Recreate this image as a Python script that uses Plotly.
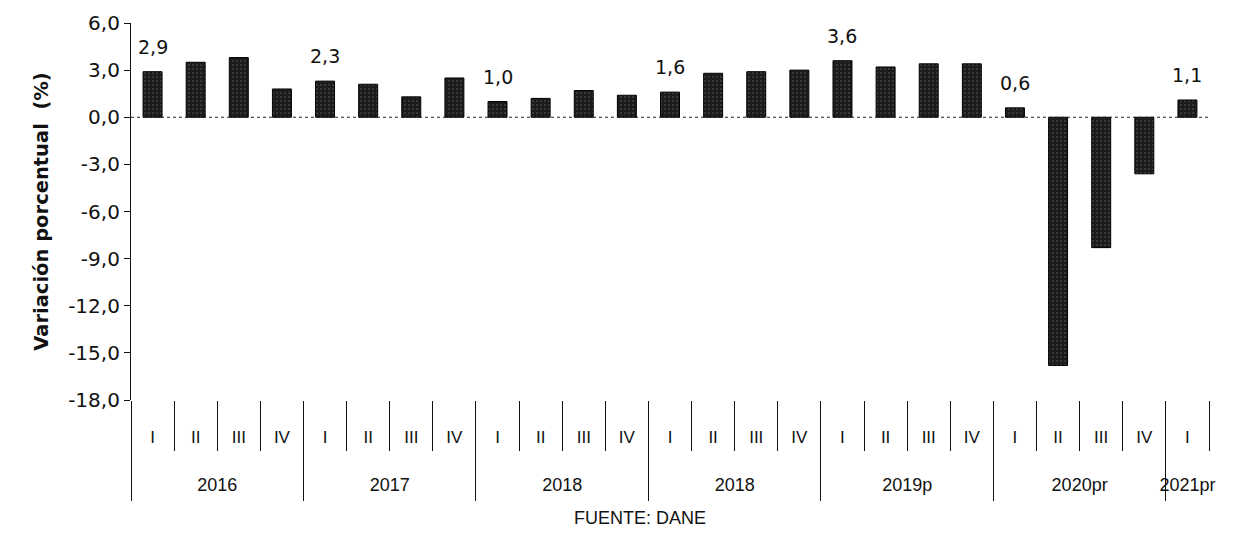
import plotly.graph_objects as go

# ---- data ----
group_labels = ["2016", "2017", "2018", "2018", "2019p", "2020pr", "2021pr"]
group_quarters = [["I", "II", "III", "IV"]] * 6 + [["I"]]
values = [2.9, 3.5, 3.8, 1.8,
          2.3, 2.1, 1.3, 2.5,
          1.0, 1.2, 1.7, 1.4,
          1.6, 2.8, 2.9, 3.0,
          3.6, 3.2, 3.4, 3.4,
          0.6, -15.8, -8.3, -3.6,
          1.1]
y_ticks = [6, 3, 0, -3, -6, -9, -12, -15, -18]

# ---- derived structure ----
quarters, keys, first_of_group = [], [], []
group_start, group_center = [], []
i = 0
for g, (lab, qs) in enumerate(zip(group_labels, group_quarters)):
    group_start.append(i - 0.5)
    group_center.append(i + (len(qs) - 1) / 2)
    for k, q in enumerate(qs):
        quarters.append(q)
        keys.append(f"{lab} {q} #{g}")
        first_of_group.append(k == 0)
        i += 1
n = len(keys)

def fmt(v):
    return f"{v:.1f}".replace(".", ",")

fig = go.Figure()
fig.add_trace(go.Bar(
    x=keys, y=values,
    marker=dict(color="#1c1c1c", line=dict(color="#000000", width=1),
                pattern=dict(shape=".", fgcolor="#a0a0a0", size=4, solidity=0.12)),
    showlegend=False, hoverinfo="y",
))
# empty helper traces so the overlaid year axes get drawn
fig.add_trace(go.Scatter(x=group_start, y=[None] * len(group_start), xaxis="x2",
                         mode="markers", showlegend=False, hoverinfo="skip"))
fig.add_trace(go.Scatter(x=group_center, y=[None] * len(group_center), xaxis="x3",
                         mode="markers", showlegend=False, hoverinfo="skip"))

for idx, (v, lab) in enumerate(zip(values, first_of_group)):
    if lab:
        fig.add_annotation(x=idx, xref="x", y=v, yref="y", text=fmt(v),
                           showarrow=False, yshift=25,
                           font=dict(family="DejaVu Sans", size=19, color="#111"))

fig.add_shape(type="line", xref="x domain", yref="y", x0=0, x1=1, y0=0, y1=0,
              line=dict(color="#222", width=1.2, dash="dot"))

fig.update_layout(
    width=1233, height=530,
    margin=dict(l=123, r=32, t=15, b=138),
    plot_bgcolor="white", paper_bgcolor="white",
    bargap=0.56,
    font=dict(family="DejaVu Sans", color="#111"),
    xaxis=dict(
        type="category", categoryorder="array", categoryarray=keys,
        range=[-0.5, n - 0.5], automargin=False,
        tickvals=keys, ticktext=quarters,
        tickson="boundaries", ticks="outside", ticklen=50,
        tickcolor="#111", tickwidth=1.2, ticklabelstandoff=25,
        showgrid=False, showline=False, zeroline=False,
        tickfont=dict(family="Liberation Sans", size=17, color="#111"),
    ),
    xaxis2=dict(
        overlaying="x", anchor="y", side="bottom", automargin=False,
        range=[-0.5, n - 0.5], tickvals=group_start,
        ticks="outside", ticklen=100, tickcolor="#111", tickwidth=1.2,
        showticklabels=False, showgrid=False, showline=False, zeroline=False,
    ),
    xaxis3=dict(
        overlaying="x", anchor="y", side="bottom", automargin=False,
        range=[-0.5, n - 0.5], tickvals=group_center, ticktext=group_labels,
        ticks="", ticklabelstandoff=72,
        showgrid=False, showline=False, zeroline=False,
        tickfont=dict(family="Liberation Sans", size=18, color="#111"),
    ),
    yaxis=dict(
        range=[-18, 6], tickvals=y_ticks, ticktext=[fmt(v) for v in y_ticks],
        automargin=False,
        showline=True, linecolor="#111", linewidth=1.2,
        ticks="outside", ticklen=6, tickcolor="#111",
        showgrid=False, zeroline=False,
        tickfont=dict(family="DejaVu Sans", size=20, color="#111"),
        title=dict(text="<b>Variación porcentual  (%)</b>",
                   font=dict(family="DejaVu Sans", size=19.5, color="#111"), standoff=14),
    ),
)

fig.add_annotation(text="FUENTE: DANE", xref="paper", yref="paper", x=0.472, y=-0.313,
                   xanchor="center", yanchor="middle", showarrow=False,
                   font=dict(family="Liberation Sans", size=18, color="#111"))

fig.write_html("out.html")
